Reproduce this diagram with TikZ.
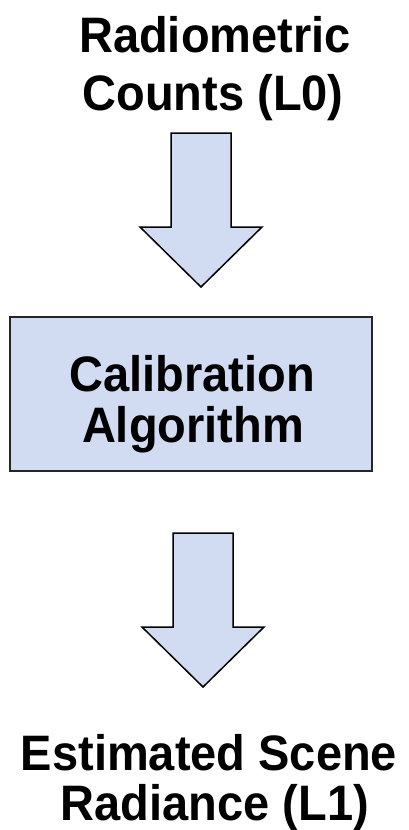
\documentclass[tikz,border=0pt]{standalone}
\usepackage{fontspec}
\setmainfont{Liberation Sans}
\usepackage{xcolor}
\usepackage{graphicx}
\definecolor{paleblue}{rgb}{0.82, 0.86, 0.95}
\usepackage{tikz}
\usetikzlibrary{positioning}
% slightly tall bold lettering
\newcommand{\tallword}[1]{\scalebox{1}[1.06]{#1}}
\tikzset{
  title/.style={font=\bfseries\fontsize{47}{56}\selectfont,inner sep=0pt,anchor=base},
  stage/.style={rectangle,draw=black!85,line width=1.6pt,fill=paleblue,minimum width=362pt,minimum height=154pt},
  flowline/.style={draw=black,line width=1.5pt,fill=paleblue,line join=miter},
  flow/.pic={
    \path[flowline] (-30,-77) -- (30,-77) -- (30,17) -- (61,17) -- (0,77)
      -- (-61,17) -- (-30,17) -- cycle;
  }
}

\begin{document}
\begin{tikzpicture}[x=1pt,y=-1pt]
  \useasboundingbox (0,0) rectangle (408,830);
  % Input counts
  \node[title] (countsA) at (215,52) {\tallword{Radiometric}};
  \node[title] (countsB) at (213,110) {\tallword{Counts (L0)}};

  % Processing step
  \node[stage] (calib) at (191,394) {};
  \node[title] (calibA) at (192,391) {\tallword{Calibration}};
  \node[title] (calibB) at (193,442) {\tallword{Algorithm}};

  % Output radiance
  \node[title] (radianceA) at (209,770) {\tallword{Estimated Scene}};
  \node[title] (radianceB) at (215,820) {\tallword{Radiance (L1)}};

  % Block arrows between the stages
  \pic (inarrow) at (201,210) {flow};
  \pic (outarrow) at (203,610) {flow};
\end{tikzpicture}
\end{document}
